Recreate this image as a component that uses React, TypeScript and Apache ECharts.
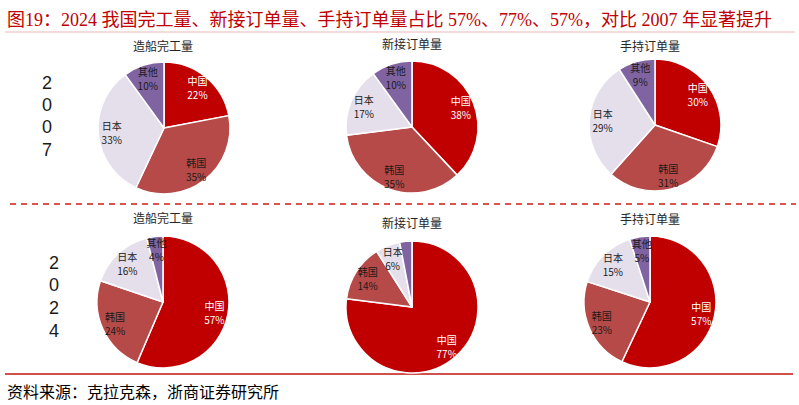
import React, { useEffect, useRef } from 'react';
import * as echarts from 'echarts';

const categories = ['中国', '韩国', '日本', '其他'];
const metrics = ['造船完工量', '新接订单量', '手持订单量'];
const years = ['2007', '2024'];
const values2007 = [
  [22, 35, 33, 10],
  [38, 35, 17, 10],
  [30, 31, 29, 9],
];
const values2024 = [
  [57, 24, 16, 4],
  [77, 14, 6, 3],
  [57, 23, 15, 5],
];
const colors = ['#C00000', '#B64A48', '#E5DFEC', '#8064A2'];
const labelColors = ['#FFFFFF', '#1A1A1A', '#1A1A1A', '#1A1A1A'];
const titleText = '图19：2024 我国完工量、新接订单量、手持订单量占比 57%、77%、57%，对比 2007 年显著提升';
const sourceText = '资料来源：克拉克森，浙商证券研究所';

// layout (positions only)
const R = 66;
const centers = [
  [[164, 128], [412, 127], [655, 125]],
  [[163, 302], [412, 307], [650, 302]],
];
const subtitlePos = [
  [[163, 45], [412, 43], [650, 45]],
  [[163, 217], [412, 222], [650, 218]],
];
const yearPos = [
  { x: 47, ys: [83, 105, 127, 150] },
  { x: 54, ys: [263, 285, 308, 331] },
];

const serif = "'Liberation Serif', 'Noto Sans CJK SC', serif";
const cjk = "'Noto Sans CJK SC', sans-serif";

export default function App() {
  const ref = useRef<HTMLDivElement>(null);
  useEffect(() => {
    if (!ref.current) return;
    const chart = echarts.init(ref.current, undefined, { renderer: 'svg' });
    const allValues = [values2007, values2024];
    const series: any[] = [];
    allValues.forEach((rowVals, ri) => {
      rowVals.forEach((vals, ci) => {
        series.push({
          type: 'pie',
          center: centers[ri][ci],
          radius: [0, R],
          startAngle: 90,
          clockwise: true,
          silent: true,
          itemStyle: { borderColor: '#FFFFFF', borderWidth: 1.5 },
          label: { show: false },
          labelLine: { show: false },
          emphasis: { disabled: true },
          data: categories.map((name, k) => ({
            name,
            value: vals[k],
            itemStyle: { color: colors[k] },
          })),
        });
        series.push({
          type: 'pie',
          center: centers[ri][ci],
          radius: [R * 0.5, R],
          startAngle: 90,
          clockwise: true,
          silent: true,
          itemStyle: { color: 'transparent', borderWidth: 0 },
          label: {
            show: true,
            position: 'inside',
            formatter: '{b}\n{c}%',
            fontSize: 10,
            lineHeight: 14,
            fontFamily: cjk,
          },
          labelLine: { show: false },
          emphasis: { disabled: true },
          data: categories.map((name, k) => ({
            name,
            value: vals[k],
            itemStyle: { color: 'transparent' },
            label: { color: labelColors[k] },
          })),
        });
      });
    });

    const graphic: any[] = [];
    graphic.push({
      type: 'text',
      x: 7,
      y: 20,
      style: {
        text: titleText,
        fill: '#C00000',
        fontSize: 18,
        fontFamily: serif,
        textVerticalAlign: 'middle',
      },
    });
    graphic.push({
      type: 'line',
      shape: { x1: 5, y1: 32, x2: 795, y2: 32 },
      style: { stroke: '#EBB9B8', lineWidth: 1 },
    });
    graphic.push({
      type: 'line',
      shape: { x1: 10, y1: 204, x2: 796, y2: 204 },
      style: { stroke: '#D9534F', lineWidth: 2, lineDash: [6, 5] },
    });
    graphic.push({
      type: 'line',
      shape: { x1: 5, y1: 374, x2: 793, y2: 374 },
      style: { stroke: '#D0504D', lineWidth: 2 },
    });
    graphic.push({
      type: 'text',
      x: 7,
      y: 392,
      style: {
        text: sourceText,
        fill: '#000000',
        fontSize: 16,
        fontFamily: serif,
        textVerticalAlign: 'middle',
      },
    });
    subtitlePos.forEach((row) => {
      row.forEach((p, ci) => {
        graphic.push({
          type: 'text',
          x: p[0],
          y: p[1],
          style: {
            text: metrics[ci],
            fill: '#262626',
            fontSize: 12,
            fontFamily: cjk,
            textAlign: 'center',
            textVerticalAlign: 'middle',
          },
        });
      });
    });
    years.forEach((yr, ri) => {
      yr.split('').forEach((ch, k) => {
        graphic.push({
          type: 'text',
          x: yearPos[ri].x,
          y: yearPos[ri].ys[k],
          style: {
            text: ch,
            fill: '#1A1A1A',
            fontSize: 18,
            fontFamily: "'Liberation Sans', sans-serif",
            textAlign: 'center',
            textVerticalAlign: 'middle',
          },
        });
      });
    });

    chart.setOption({
      animation: false,
      backgroundColor: '#FFFFFF',
      series,
      graphic,
    });
    return () => chart.dispose();
  }, []);
  return (
    <div
      ref={ref}
      style={{ position: 'fixed', left: 0, top: 0, width: 799, height: 405 }}
    />
  );
}
